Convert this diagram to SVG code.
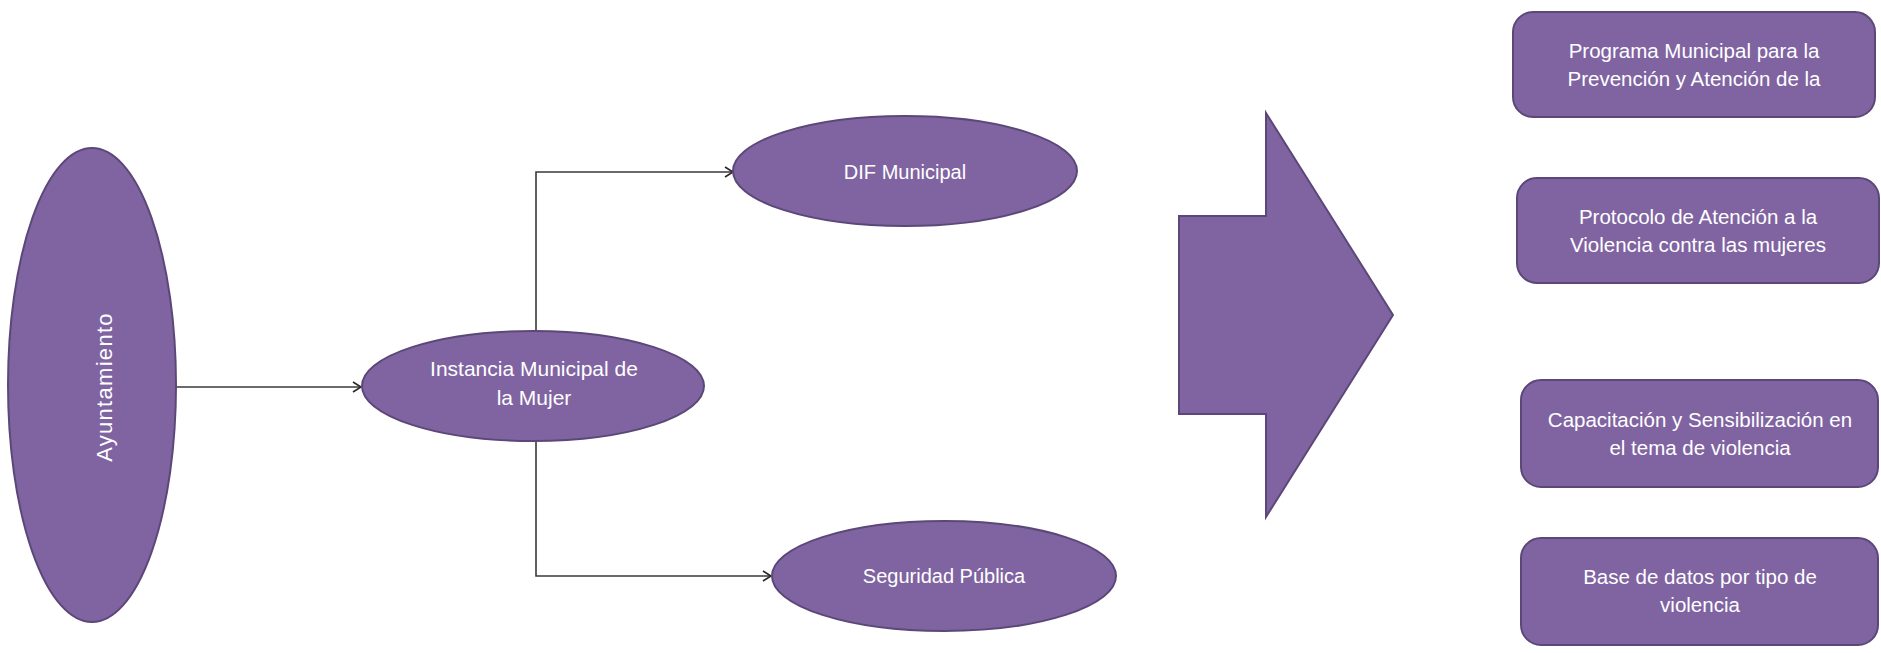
<svg xmlns="http://www.w3.org/2000/svg" width="1881" height="653" viewBox="0 0 1881 653">
<style>
.shape{fill:#8064A2;stroke:#5C4878;stroke-width:2}
.lbl{fill:#ffffff;font-family:"Liberation Sans",Arial,sans-serif;font-size:20px;text-anchor:middle}
.blbl{fill:#ffffff;font-family:"Liberation Sans",Arial,sans-serif;font-size:20.5px;text-anchor:middle}
.conn{fill:none;stroke:#3A3A3A;stroke-width:1.6}
</style>
<defs>
<marker id="arr" markerWidth="12" markerHeight="12" refX="10" refY="6" orient="auto" markerUnits="userSpaceOnUse">
<path d="M2,1 L10,6 L2,11" fill="none" stroke="#2A2A2A" stroke-width="1.6"/>
</marker>
</defs>
<rect width="1881" height="653" fill="#ffffff"/>
<g id="connectors">
<path class="conn" d="M176,387 L361,387" marker-end="url(#arr)"/>
<path class="conn" d="M536,331 L536,172 L733,172" marker-end="url(#arr)"/>
<path class="conn" d="M536,441 L536,576 L771,576" marker-end="url(#arr)"/>
</g>
<g id="ayuntamiento">
<ellipse class="shape" cx="92" cy="385" rx="84" ry="237"/>
<text class="lbl" style="font-size:22px;letter-spacing:1.3px" transform="translate(112,387) rotate(-90)" x="0" y="0">Ayuntamiento</text>
</g>
<g id="instancia">
<ellipse class="shape" cx="533" cy="386" rx="171" ry="55"/>
<text class="lbl" x="534" y="376" style="font-size:21px">Instancia Municipal de</text>
<text class="lbl" x="534" y="405" style="font-size:21px">la Mujer</text>
</g>
<g id="dif">
<ellipse class="shape" cx="905" cy="171" rx="172" ry="55"/>
<text class="lbl" x="905" y="179">DIF Municipal</text>
</g>
<g id="seguridad">
<ellipse class="shape" cx="944" cy="576" rx="172" ry="55"/>
<text class="lbl" x="944" y="583">Seguridad Pública</text>
</g>
<g id="big-arrow">
<path class="shape" d="M1179,216 L1266,216 L1266,113 L1393,315 L1266,517 L1266,414 L1179,414 Z"/>
</g>
<g id="programa">
<rect class="shape" x="1513" y="12" width="362" height="105" rx="20"/>
<text class="blbl" x="1694" y="58">Programa Municipal para la</text>
<text class="blbl" x="1694" y="86">Prevención y Atención de la</text>
</g>
<g id="protocolo">
<rect class="shape" x="1517" y="178" width="362" height="105" rx="20"/>
<text class="blbl" x="1698" y="224">Protocolo de Atención a la</text>
<text class="blbl" x="1698" y="252">Violencia contra las mujeres</text>
</g>
<g id="capacitacion">
<rect class="shape" x="1521" y="380" width="357" height="107" rx="20"/>
<text class="blbl" x="1700" y="427">Capacitación y Sensibilización en</text>
<text class="blbl" x="1700" y="455">el tema de violencia</text>
</g>
<g id="base-datos">
<rect class="shape" x="1521" y="538" width="357" height="107" rx="20"/>
<text class="blbl" x="1700" y="584">Base de datos por tipo de</text>
<text class="blbl" x="1700" y="612">violencia</text>
</g>
</svg>
